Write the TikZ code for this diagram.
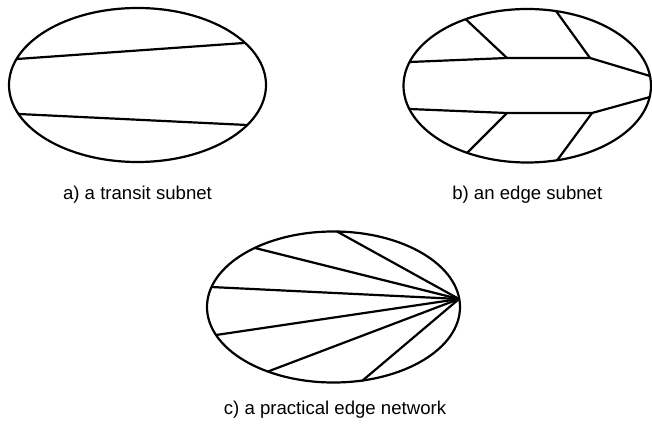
\documentclass[tikz,border=0pt]{standalone}
\usepackage{fontspec}
\setmainfont{Liberation Sans}
\usetikzlibrary{positioning}

\tikzset{
    net/.style={line width=2.2pt, line join=round},
    caption/.style={anchor=base, font=\fontsize{18.6}{22}\selectfont}
}

\begin{document}
\begin{tikzpicture}[x=1pt, y=-1pt]
    \useasboundingbox (0,0) rectangle (652,427);

    % a) Transit subnet
    \draw[net] (137.5,85) ellipse [x radius=128.5pt, y radius=77pt];
    \draw[net] (17,59) -- (244,43);
    \draw[net] (18.5,114) -- (247,125);
    \node[caption] (capA) at (137.5,200) {a) a transit subnet};

    % b) Edge subnet
    \draw[net] (527.25,85.75) ellipse [x radius=123.75pt, y radius=76.75pt];
    \coordinate (ul) at (507,58);
    \coordinate (ur) at (590,58);
    \coordinate (ll) at (507,113);
    \coordinate (lr) at (592,113);
    \draw[net] (409.6,62) -- (ul) -- (ur) -- (650,76);
    \draw[net] (409.3,109) -- (ll) -- (lr) -- (650,97);
    \draw[net] (ul) -- (466,19.5);
    \draw[net] (ur) -- (556,11);
    \draw[net] (ll) -- (467,153);
    \draw[net] (lr) -- (557,160.5);
    \node[caption] (capB) at (527.25,200) {b) an edge subnet};

    % c) Practical edge network
    \draw[net] (333.5,307) ellipse [x radius=126.5pt, y radius=75.5pt];
    \coordinate (hub) at (459,299);
    \draw[net] (hub) -- (337,231.5);
    \draw[net] (hub) -- (255,248);
    \draw[net] (hub) -- (211,287);
    \draw[net] (hub) -- (216,335);
    \draw[net] (hub) -- (268,371.5);
    \draw[net] (hub) -- (362,381);
    \node[caption] (capC) at (335,414) {c) a practical edge network};
\end{tikzpicture}
\end{document}
